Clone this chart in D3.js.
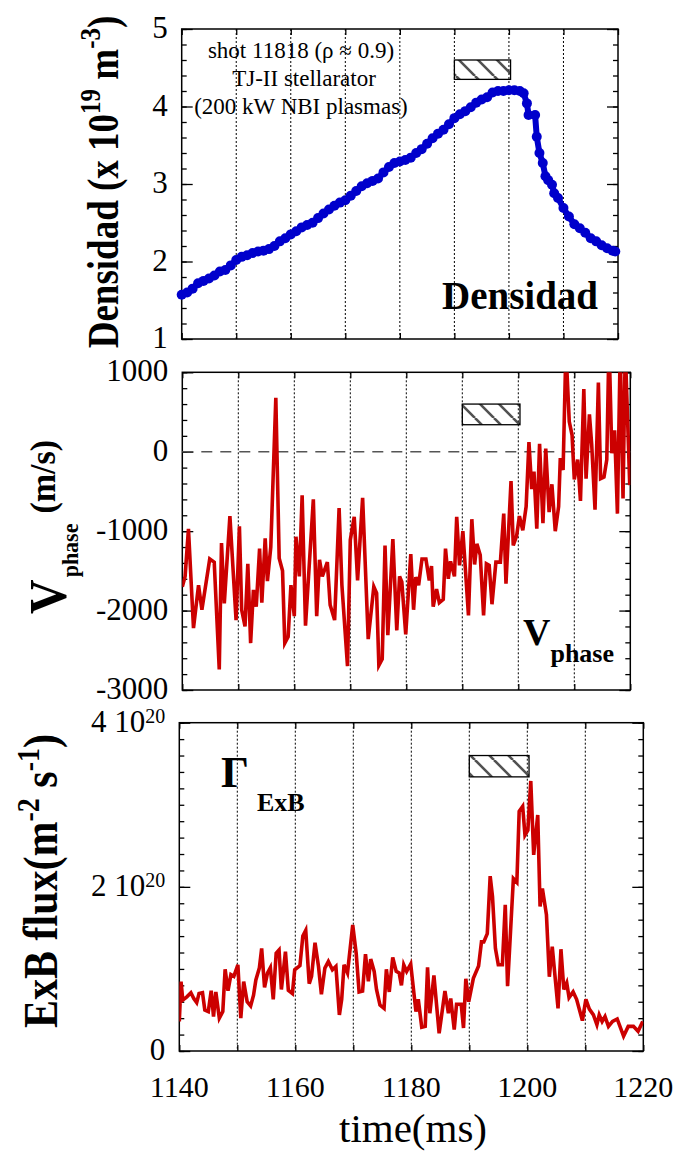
<!DOCTYPE html>
<html>
<head>
<meta charset="utf-8">
<script src="https://cdn.jsdelivr.net/npm/d3@7"></script>
<style>
  body { margin: 0; background: #fff; }
  svg { display: block; font-family: "Liberation Serif", "Times New Roman", serif; }
</style>
</head>
<body>
<script>
// ---- data ----
const timeTicks = [1140, 1160, 1180, 1200, 1220];
const gridTimes = [1150, 1160, 1170, 1180, 1190, 1200, 1210];
const hatchTime = [1190, 1200.3];

// density (x 10^19 m^-3)
const densTime = [1140,1141,1142,1143,1144,1145,1146,1147,1148,1149,
  1150,1151,1152,1153,1154,1155,1156,1157,1158,1159,
  1160,1161,1162,1163,1164,1165,1166,1167,1168,1169,
  1170,1171,1172,1173,1174,1175,1176,1177,1178,1179,
  1180,1181,1182,1183,1184,1185,1186,1187,1188,1189,
  1190,1191,1192,1193,1194,1195,1196,1197,1198,1199,
  1200,1201,1202,1202.7,1203.3,1203.6,1204.8,1205.1,1205.6,1206.2,
  1206.7,1207.2,1207.9,1208.3,1209,1210,1211,1212,1213,1214,
  1215,1216,1217,1218,1219,1219.5];
const densValue = [1.57,1.60,1.65,1.72,1.75,1.78,1.82,1.87,1.89,1.95,
  2.02,2.06,2.08,2.11,2.13,2.14,2.16,2.20,2.26,2.30,
  2.35,2.39,2.44,2.47,2.50,2.56,2.62,2.67,2.72,2.76,
  2.79,2.85,2.91,2.97,3.01,3.04,3.07,3.15,3.22,3.27,
  3.29,3.31,3.34,3.40,3.45,3.52,3.59,3.65,3.70,3.77,
  3.85,3.90,3.94,3.99,4.05,4.09,4.12,4.18,4.20,4.20,
  4.21,4.21,4.20,4.17,4.04,3.89,3.89,3.61,3.40,3.27,
  3.10,3.05,2.99,2.88,2.82,2.69,2.58,2.48,2.43,2.37,
  2.30,2.26,2.21,2.17,2.14,2.13];
const densTicks = [1, 2, 3, 4, 5];
const densHatch = [4.35, 4.6];

// phase velocity (m/s)
const vTime = [1140.0,1140.5,1141.1,1142.0,1142.9,1143.5,1144.9,1145.7,1146.6,1147.0,
  1147.5,1148.5,1149.6,1150.2,1150.6,1151.2,1151.7,1152.2,1152.7,1153.2,
  1153.8,1154.2,1154.8,1155.2,1155.8,1156.7,1157.3,1157.9,1158.3,1158.9,
  1159.4,1160.0,1160.3,1160.9,1161.4,1162.0,1163.4,1164.0,1164.5,1165.0,
  1165.9,1166.4,1167.2,1168.0,1168.5,1169.5,1170.0,1170.7,1171.3,1172.2,
  1173.2,1174.2,1174.7,1175.1,1175.7,1176.2,1176.7,1177.6,1178.3,1178.8,
  1179.2,1179.9,1180.8,1181.3,1181.7,1182.2,1182.8,1183.5,1184.1,1184.5,
  1184.8,1185.4,1185.9,1186.6,1187.0,1187.5,1187.9,1188.6,1189.0,1189.5,
  1190.1,1191.1,1191.7,1192.2,1192.6,1193.2,1193.8,1194.3,1194.8,1195.3,
  1196.0,1196.8,1197.4,1197.8,1198.7,1199.1,1199.7,1200.2,1200.8,1201.4,
  1201.9,1202.4,1202.8,1203.3,1203.8,1204.4,1204.9,1205.5,1206.0,1206.6,
  1207.2,1207.5,1208.0,1208.5,1209.1,1209.6,1210.0,1210.6,1211.1,1211.7,
  1212.1,1212.7,1213.1,1213.7,1214.3,1214.7,1215.3,1215.8,1216.2,1216.7,
  1217.2,1217.7,1218.2,1218.7,1219.1,1219.9];
const vValue = [-1700,-1570,-970,-2220,-1680,-1990,-1350,-1390,-2740,-1150,
  -1910,-810,-2120,-940,-1990,-2200,-1410,-2410,-1740,-1950,
  -1220,-1900,-1090,-1630,-1200,680,-1340,-1500,-2410,-2330,
  -1680,-2070,-1070,-1570,-550,-2190,-600,-2070,-1360,-1570,
  -1390,-1930,-2120,-710,-1680,-2700,-1110,-820,-1620,-580,
  -2360,-1700,-1780,-2690,-2610,-1180,-2310,-1100,-2250,-1570,
  -1640,-2300,-1290,-1990,-1580,-1680,-1350,-1350,-1620,-1440,
  -1950,-1730,-1900,-1860,-1220,-1600,-1380,-1570,-820,-1430,
  -1000,-2060,-850,-1420,-1160,-1300,-2060,-1410,-1430,-1920,
  -1390,-1390,-780,-1660,-370,-1180,-1060,-810,-990,-690,
  120,-470,-250,-970,100,-900,40,-760,-410,-1000,
  -690,-80,-230,1300,380,210,-350,-100,-620,790,
  -340,470,100,-730,870,-340,-320,-100,1400,-20,
  270,-780,1300,-590,1300,-420];
const vTicks = [-3000, -2000, -1000, 0, 1000];
const vHatch = [340, 600];

// ExB flux (x 10^20 m^-2 s^-1)
const fluxTime = [1140.0,1140.3,1140.6,1141.3,1142.0,1142.5,1143.0,1143.4,1144.0,1144.4,
  1145.0,1145.5,1145.9,1146.3,1146.9,1147.5,1147.9,1148.4,1148.9,1149.4,
  1150.1,1150.6,1151.1,1151.7,1152.3,1152.8,1153.2,1153.8,1154.2,1154.7,
  1155.2,1155.7,1156.2,1156.7,1157.2,1157.6,1158.3,1158.8,1159.5,1159.9,
  1160.8,1161.3,1161.8,1162.4,1162.8,1163.4,1164.0,1164.5,1165.1,1165.7,
  1166.4,1167.0,1167.6,1168.0,1168.4,1169.0,1169.9,1170.5,1171.0,1171.6,
  1172.1,1172.6,1173.0,1173.6,1174.0,1174.6,1175.3,1175.7,1176.2,1176.8,
  1177.4,1177.9,1178.3,1178.7,1179.2,1179.9,1180.8,1181.2,1181.8,1182.4,
  1182.8,1183.2,1183.9,1184.8,1185.8,1186.4,1186.8,1187.4,1187.8,1188.6,
  1189.0,1189.4,1189.9,1190.7,1191.6,1192.1,1192.5,1193.1,1193.6,1194.0,
  1194.5,1195.0,1195.7,1196.2,1196.6,1197.6,1198.2,1198.6,1199.2,1199.6,
  1200.1,1200.6,1201.1,1201.8,1202.2,1202.6,1203.3,1203.8,1204.3,1205.3,
  1205.8,1206.3,1206.8,1207.2,1207.9,1208.5,1209.5,1210.1,1210.7,1211.4,
  1212.0,1212.4,1212.9,1213.4,1214.0,1214.7,1215.5,1216.6,1217.4,1218.3,
  1219.1,1219.9];
const fluxValue = [0.36,0.845,0.62,0.66,0.71,0.64,0.59,0.70,0.71,0.50,
  0.48,0.735,0.42,0.72,0.40,0.48,0.995,0.735,0.93,0.91,
  1.05,0.40,0.845,0.60,0.55,0.68,0.865,1.01,1.25,0.775,
  0.95,1.015,0.63,1.19,1.23,0.75,1.21,0.74,0.70,0.99,
  1.04,1.40,1.47,0.82,0.91,1.32,1.03,0.69,1.01,1.09,
  0.99,1.03,0.44,0.63,1.05,0.95,1.535,1.19,0.72,0.73,
  1.18,0.85,1.12,0.97,0.75,0.56,0.52,0.995,0.72,1.14,
  0.97,0.95,0.80,1.05,0.97,1.06,0.48,0.63,0.29,0.30,
  1.02,0.46,0.92,0.215,0.73,0.46,0.64,0.26,0.57,0.57,
  0.28,0.88,0.60,0.885,1.035,1.33,1.33,1.43,2.13,1.88,
  1.25,1.05,1.05,1.78,0.79,2.10,2.055,2.92,2.98,2.63,
  2.69,3.29,2.39,2.875,1.76,1.98,1.66,0.905,1.27,0.52,
  1.24,0.75,0.83,0.65,0.72,0.63,0.37,0.63,0.51,0.44,
  0.32,0.44,0.36,0.42,0.30,0.36,0.39,0.18,0.30,0.30,
  0.24,0.36];
const fluxTicks = [0, 2, 4];
const fluxHatch = [3.34, 3.6];

// ---- drawing ----
const width = 680, height = 1151;
const svg = d3.select('body').append('svg')
  .attr('width', width)
  .attr('height', height);

const defs = svg.append('defs');
const hatch = defs.append('pattern')
  .attr('id', 'hatch')
  .attr('patternUnits', 'userSpaceOnUse')
  .attr('width', 19)
  .attr('height', 19);
hatch.append('path')
  .attr('d', 'M-19,0L0,19M0,0L19,19M19,0L38,19')
  .attr('stroke', '#333')
  .attr('stroke-width', 2.6)
  .attr('stroke-opacity', 0.85);

function panel(cfg) {
  const x = d3.scaleLinear().domain([1140, 1220]).range([cfg.left, cfg.right]);
  const y = d3.scaleLinear().domain(cfg.yDomain).range([cfg.bottom, cfg.top]);
  const g = svg.append('g');

  defs.append('clipPath').attr('id', cfg.id + '-clip')
    .append('rect')
    .attr('x', cfg.left).attr('y', cfg.top)
    .attr('width', cfg.right - cfg.left).attr('height', cfg.bottom - cfg.top);

  // vertical grid
  g.selectAll('line.grid')
    .data(gridTimes)
    .join('line')
    .attr('class', 'grid')
    .attr('x1', d => x(d)).attr('x2', d => x(d))
    .attr('y1', cfg.top).attr('y2', cfg.bottom)
    .attr('stroke', '#000')
    .attr('stroke-width', 1)
    .attr('stroke-dasharray', '2,2');

  // y ticks, inside on both sides
  const [y0, y1] = cfg.yDomain;
  const minor = d3.range(y0, y1 + cfg.minorStep / 2, cfg.minorStep);
  const major = d3.range(y0, y1 + cfg.majorStep / 2, cfg.majorStep);
  const tickSets = [[minor, 5], [major, 11]];
  tickSets.forEach(([vals, len]) => {
    g.append('g')
      .attr('transform', `translate(${cfg.left},0)`)
      .call(d3.axisLeft(y).tickValues(vals).tickSize(-len).tickFormat(''))
      .call(a => a.select('.domain').remove());
    g.append('g')
      .attr('transform', `translate(${cfg.right},0)`)
      .call(d3.axisRight(y).tickValues(vals).tickSize(-len).tickFormat(''))
      .call(a => a.select('.domain').remove());
  });

  // x ticks top and bottom
  const xt = d3.range(1140, 1221, 10);
  g.append('g')
    .attr('transform', `translate(0,${cfg.bottom})`)
    .call(d3.axisBottom(x).tickValues(xt).tickSize(-6).tickFormat(''))
    .call(a => a.select('.domain').remove());
  g.append('g')
    .attr('transform', `translate(0,${cfg.top})`)
    .call(d3.axisTop(x).tickValues(xt).tickSize(-6).tickFormat(''))
    .call(a => a.select('.domain').remove());
  g.selectAll('.tick line').attr('stroke', '#000').attr('stroke-width', 1.3);

  // hatch box
  g.append('rect')
    .attr('x', x(hatchTime[0]))
    .attr('y', y(cfg.hatch[1]))
    .attr('width', x(hatchTime[1]) - x(hatchTime[0]))
    .attr('height', y(cfg.hatch[0]) - y(cfg.hatch[1]))
    .attr('fill', 'url(#hatch)')
    .attr('stroke', '#000')
    .attr('stroke-width', 1.3);

  // frame
  g.append('rect')
    .attr('x', cfg.left).attr('y', cfg.top)
    .attr('width', cfg.right - cfg.left).attr('height', cfg.bottom - cfg.top)
    .attr('fill', 'none')
    .attr('stroke', '#000')
    .attr('stroke-width', 1.5);

  // tick labels
  g.selectAll('text.ylab')
    .data(cfg.ticks)
    .join('text')
    .attr('class', 'ylab')
    .attr('x', cfg.left - 14)
    .attr('y', d => y(d) + 9)
    .attr('text-anchor', 'end')
    .attr('font-size', 31)
    .each(function (d) { cfg.tickText(d3.select(this), d); });

  return { g, x, y };
}

// panel 1: density
const p1 = panel({
  id: 'dens', left: 181.7, right: 618, top: 29, bottom: 339,
  yDomain: [1, 5], minorStep: 0.2, majorStep: 1,
  ticks: densTicks, hatch: densHatch,
  tickText: (t, d) => t.text(d)
});
const densData = densTime.map((t, i) => ({ t, v: densValue[i] }));
p1.g.append('path')
  .datum(densData)
  .attr('d', d3.line().x(d => p1.x(d.t)).y(d => p1.y(d.v)))
  .attr('fill', 'none')
  .attr('stroke', '#0000cc')
  .attr('stroke-width', 6);
p1.g.selectAll('circle.dens')
  .data(densData)
  .join('circle')
  .attr('class', 'dens')
  .attr('cx', d => p1.x(d.t))
  .attr('cy', d => p1.y(d.v))
  .attr('r', 5)
  .attr('fill', '#0000cc');

const info = p1.g.append('text')
  .attr('text-anchor', 'middle')
  .attr('font-size', 23);
info.append('tspan').attr('x', 301).attr('y', 58).text('shot 11818 (\u03c1 \u2248 0.9)');
info.append('tspan').attr('x', 304).attr('y', 86).text('TJ-II stellarator');
info.append('tspan').attr('x', 301).attr('y', 114).text('(200 kW NBI plasmas)');
p1.g.append('text')
  .attr('x', 520).attr('y', 309)
  .attr('text-anchor', 'middle')
  .attr('font-size', 39)
  .attr('font-weight', 'bold')
  .text('Densidad');

// panel 2: phase velocity
const p2 = panel({
  id: 'vph', left: 182.3, right: 630.3, top: 372.3, bottom: 690,
  yDomain: [-3000, 1000], minorStep: 200, majorStep: 1000,
  ticks: vTicks, hatch: vHatch,
  tickText: (t, d) => t.text(d)
});
p2.g.append('line')
  .attr('x1', p2.x(1140)).attr('x2', p2.x(1220))
  .attr('y1', p2.y(0)).attr('y2', p2.y(0))
  .attr('stroke', '#555')
  .attr('stroke-width', 1.5)
  .attr('stroke-dasharray', '11,8');
p2.g.append('path')
  .datum(vTime.map((t, i) => ({ t, v: vValue[i] })))
  .attr('clip-path', 'url(#vph-clip)')
  .attr('d', d3.line().x(d => p2.x(d.t)).y(d => p2.y(d.v)))
  .attr('fill', 'none')
  .attr('stroke', '#cc0000')
  .attr('stroke-width', 3.6);
const vlab = p2.g.append('text').attr('font-weight', 'bold').attr('x', 523).attr('y', 645);
vlab.append('tspan').attr('font-size', 38).text('V');
vlab.append('tspan').attr('font-size', 26).attr('dy', 17).text('phase');

// panel 3: ExB flux
const p3 = panel({
  id: 'flux', left: 179.3, right: 643.3, top: 722.7, bottom: 1051,
  yDomain: [0, 4], minorStep: 0.2, majorStep: 2,
  ticks: fluxTicks, hatch: fluxHatch,
  tickText: (t, d) => {
    if (d === 0) { t.text('0'); return; }
    t.append('tspan').text(d + ' 10');
    t.append('tspan').attr('font-size', 20).attr('dy', -9).text('20');
  }
});
p3.g.append('path')
  .datum(fluxTime.map((t, i) => ({ t, v: fluxValue[i] })))
  .attr('clip-path', 'url(#flux-clip)')
  .attr('d', d3.line().x(d => p3.x(d.t)).y(d => p3.y(d.v)))
  .attr('fill', 'none')
  .attr('stroke', '#cc0000')
  .attr('stroke-width', 3.6);
const glab = p3.g.append('text').attr('font-weight', 'bold').attr('x', 221).attr('y', 787);
glab.append('tspan').attr('font-size', 44).text('\u0393');
glab.append('tspan').attr('font-size', 26).attr('dx', 8).attr('dy', 24).text('ExB');

// x tick labels (bottom only)
svg.selectAll('text.xlab')
  .data(timeTicks)
  .join('text')
  .attr('class', 'xlab')
  .attr('x', d => p3.x(d))
  .attr('y', 1097)
  .attr('text-anchor', 'middle')
  .attr('font-size', 30)
  .text(d => d);
svg.append('text')
  .attr('x', 413).attr('y', 1142)
  .attr('text-anchor', 'middle')
  .attr('font-size', 41)
  .text('time(ms)');

// axis titles (glyphs stretched across, as in the original figure)
const t1 = svg.append('text')
  .attr('transform', 'translate(118,182) scale(1.2,1) rotate(-90)')
  .attr('text-anchor', 'middle')
  .attr('font-weight', 'bold')
  .attr('font-size', 37);
t1.append('tspan').text('Densidad (x 10');
t1.append('tspan').attr('font-size', 25).attr('dy', -15).text('19');
t1.append('tspan').attr('dy', 15).text(' m');
t1.append('tspan').attr('font-size', 25).attr('dy', -15).text('-3');
t1.append('tspan').attr('dy', 15).text(')');

const t2 = svg.append('text')
  .attr('transform', 'translate(66,614) scale(1.08,1) rotate(-90)')
  .attr('text-anchor', 'start')
  .attr('font-weight', 'bold')
  .attr('font-size', 48);
t2.append('tspan').text('V');
t2.append('tspan').attr('font-size', 22).attr('dx', 2).attr('dy', 11).text('phase');
t2.append('tspan').attr('font-size', 34).attr('dx', 10).attr('dy', -21).text('(m/s)');

const t3 = svg.append('text')
  .attr('transform', 'translate(57,881) scale(1.15,1) rotate(-90)')
  .attr('text-anchor', 'middle')
  .attr('font-weight', 'bold')
  .attr('font-size', 42);
t3.append('tspan').text('ExB flux(m');
t3.append('tspan').attr('font-size', 28).attr('dy', -16).text('-2');
t3.append('tspan').attr('dy', 16).text(' s');
t3.append('tspan').attr('font-size', 28).attr('dy', -16).text('-1');
t3.append('tspan').attr('dy', 16).text(')');
</script>
</body>
</html>
